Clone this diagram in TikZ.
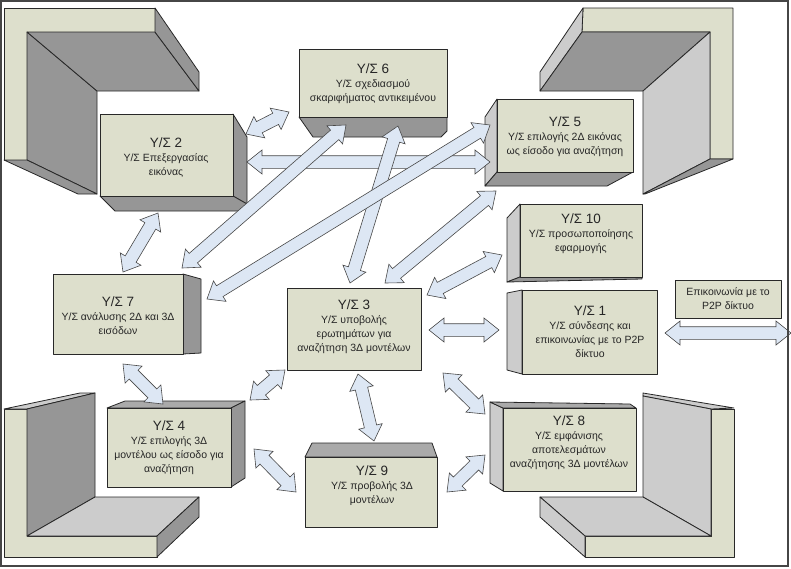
\documentclass[tikz,border=0pt]{standalone}
\usepackage{fontspec}
\setmainfont{Liberation Sans}
\usetikzlibrary{calc,fit}
\definecolor{khaki}{RGB}{221,223,204}
\definecolor{dgray}{RGB}{150,150,150}
\definecolor{lgray}{RGB}{204,204,204}
\definecolor{mgray}{RGB}{170,170,170}
\definecolor{arrowfill}{RGB}{221,231,244}
\definecolor{edgecol}{RGB}{40,40,40}
\definecolor{framecol}{RGB}{70,70,70}
\newcommand\ysTitle{\fontsize{13.5}{15}\selectfont}
\newcommand\ysSub{\fontsize{10.5}{14}\selectfont}
\newcommand\blockarrow[2]{%
  \path (#1) coordinate (BA) (#2) coordinate (BB);
  \path ($(BA)!15pt!(BB)$) coordinate (HA) ($(BB)!15pt!(BA)$) coordinate (HB);
  \filldraw[barrowstyle] (BA) -- ($(HA)!12pt!90:(BB)$) -- ($(HA)!6.3pt!90:(BB)$)
    -- ($(HB)!6.3pt!-90:(BA)$) -- ($(HB)!12pt!-90:(BA)$) -- (BB)
    -- ($(HB)!12pt!90:(BA)$) -- ($(HB)!6.3pt!90:(BA)$)
    -- ($(HA)!6.3pt!-90:(BB)$) -- ($(HA)!12pt!-90:(BB)$) -- cycle;}
\begin{document}
\begin{tikzpicture}[x=1pt,y=-1pt,
  face/.style={draw=edgecol,line width=0.8pt,line join=round},
  front/.style={face,fill=khaki,inner sep=0pt},
  dark/.style={face,fill=dgray},
  light/.style={face,fill=lgray},
  mid/.style={face,fill=mgray},
  txt/.style={align=center,font=\ysSub,inner sep=0pt,text=black!85},
  barrowstyle/.style={draw=edgecol!85,fill=arrowfill,line width=0.6pt,line join=miter}]
\useasboundingbox (0,0) rectangle (791,568);
\fill[white] (0,0) rectangle (791,568);

% ---- corner L shapes ----
% top-left
\draw[front] (4,8) -- (155,8) -- (155,32) -- (27,32) -- (27,160) -- (4,160) -- cycle;
\draw[dark] (27,32) -- (97,91) -- (97,194) -- (27,160) -- cycle;
\draw[dark] (27,32) -- (155,32) -- (199,91) -- (97,91) -- cycle;
\draw[dark] (155,8) -- (199,72) -- (199,91) -- (155,32) -- cycle;
\draw[dark] (4,160) -- (27,160) -- (97,194) -- (78,194) -- cycle;
% top-right
\draw[front] (583,8) -- (733,8) -- (733,159) -- (710,159) -- (710,32) -- (582,32) -- cycle;
\draw[light] (583,8) -- (540,72) -- (540,91) -- (582,32) -- cycle;
\draw[dark] (582,32) -- (710,32) -- (643,91) -- (540,91) -- cycle;
\draw[light] (710,32) -- (710,159) -- (643,194) -- (643,91) -- cycle;
\draw[dark] (710,159) -- (733,159) -- (645,194) -- (643,194) -- cycle;
% bottom-left
\draw[front] (4,409) -- (27,409) -- (27,536) -- (157,536) -- (157,557) -- (4,557) -- cycle;
\draw[light] (4,409) -- (80,393) -- (95,393) -- (27,409) -- cycle;
\draw[dark] (27,409) -- (95,393) -- (95,497) -- (27,536) -- cycle;
\draw[light] (27,536) -- (95,497) -- (199,497) -- (157,536) -- cycle;
\draw[dark] (157,536) -- (199,497) -- (199,517) -- (157,557) -- cycle;
% bottom-right
\draw[front] (711,409) -- (734,409) -- (734,557) -- (585,557) -- (585,536) -- (711,536) -- cycle;
\draw[light] (643,393) -- (734,408) -- (711,409) -- (643,396) -- cycle;
\draw[light] (643,396) -- (711,409) -- (711,536) -- (643,497) -- cycle;
\draw[light] (540,497) -- (643,497) -- (711,536) -- (585,536) -- cycle;
\draw[light] (540,497) -- (585,536) -- (585,557) -- (540,517) -- cycle;

% ---- boxes: side faces ----
\draw[dark] (233,114) -- (247,137) -- (247,204) -- (233,196) -- cycle;
\draw[dark] (100,196) -- (233,196) -- (247,204) -- (241,211) -- (115,211) -- cycle;
\draw[dark] (299,117) -- (447,117) -- (447,131) -- (441,137) -- (313,137) -- cycle;
\draw[light] (497,99) -- (485,117) -- (485,186) -- (497,172) -- cycle;
\draw[dark] (497,172) -- (633,172) -- (607,186) -- (485,186) -- cycle;
\draw[light] (520,204) -- (507,218) -- (507,282) -- (520,277) -- cycle;
\draw[dark] (520,277) -- (642,277) -- (642,279) -- (507,282) -- cycle;
\draw[light] (522,290) -- (507,293) -- (507,370) -- (522,374) -- cycle;
\draw[dark] (183,274) -- (201,279) -- (201,353) -- (183,354) -- cycle;
\draw[mid] (107,408) -- (125,401) -- (245,401) -- (231,408) -- cycle;
\draw[dark] (231,408) -- (245,401) -- (245,478) -- (231,487) -- cycle;
\draw[mid] (305,457) -- (312,443) -- (432,443) -- (437,457) -- cycle;
\draw[light] (503,408) -- (490,402) -- (490,483) -- (503,491) -- cycle;
\draw[mid] (490,402) -- (630,404) -- (636,408) -- (503,408) -- cycle;

% ---- boxes: front faces ----
\node[front,fit={(100,114) (233,196)}] (b2) {};
\node[front,fit={(299,49) (447,117)}] (b6) {};
\node[front,fit={(497,99) (633,172)}] (b5) {};
\node[front,fit={(520,204) (642,277)}] (b10) {};
\node[front,fit={(522,290) (657,374)}] (b1) {};
\node[front,fit={(287,288) (421,370)}] (b3) {};
\node[front,fit={(53,274) (183,354)}] (b7) {};
\node[front,fit={(107,408) (231,487)}] (b4) {};
\node[front,fit={(305,457) (437,527)}] (b9) {};
\node[front,fit={(503,408) (636,491)}] (b8) {};
\node[front,fit={(675,280) (781,318)}] (bx) {};

% ---- texts ----
\node[txt] (t2) at (166,158) {{\ysTitle Υ/Σ 2}\\Υ/Σ Επεξεργασίας\\εικόνας};
\node[txt] (t6) at (373,84) {{\ysTitle Υ/Σ 6}\\Υ/Σ σχεδιασμού\\σκαριφήματος αντικειμένου};
\node[txt] (t5) at (565,137) {{\ysTitle Υ/Σ 5}\\Υ/Σ επιλογής 2Δ εικόνας\\ως είσοδο για αναζήτηση};
\node[txt] (t10) at (581,234) {{\ysTitle Υ/Σ 10}\\Υ/Σ προσωποποίησης\\εφαρμογής};
\node[txt] (t1) at (590,332) {{\ysTitle Υ/Σ 1}\\Υ/Σ σύνδεσης και\\επικοινωνίας με το P2P\\δίκτυο};
\node[txt] (t3) at (354,327) {{\ysTitle Υ/Σ 3}\\Υ/Σ υποβολής\\ερωτημάτων για\\αναζήτηση 3Δ μοντέλων};
\node[txt] (t7) at (118,316) {{\ysTitle Υ/Σ 7}\\Υ/Σ ανάλυσης 2Δ και 3Δ\\εισόδων};
\node[txt] (t4) at (169,448) {{\ysTitle Υ/Σ 4}\\Υ/Σ επιλογής 3Δ\\μοντέλου ως είσοδο για\\αναζήτηση};
\node[txt] (t9) at (372,486) {{\ysTitle Υ/Σ 9}\\Υ/Σ προβολής 3Δ\\μοντέλων};
\node[txt] (t8) at (569,443) {{\ysTitle Υ/Σ 8}\\Υ/Σ εμφάνισης\\αποτελεσμάτων\\αναζήτησης 3Δ μοντέλων};
\node[txt] (tx) at (728,299) {Επικοινωνία με το\\P2P δίκτυο};

% ---- arrow end points ----
\coordinate (a1s) at (246,134); \coordinate (a1e) at (289,112);
\coordinate (a2s) at (247,162); \coordinate (a2e) at (490,162);
\coordinate (a3s) at (182,268); \coordinate (a3e) at (346,125);
\coordinate (a4s) at (350,283); \coordinate (a4e) at (398,126);
\coordinate (a5s) at (207,299); \coordinate (a5e) at (490,125);
\coordinate (a6s) at (385,283); \coordinate (a6e) at (496,191);
\coordinate (a7s) at (427,295); \coordinate (a7e) at (502,255);
\coordinate (a8s) at (429,330); \coordinate (a8e) at (499,330);
\coordinate (a9s) at (665,333); \coordinate (a9e) at (791,333);
\coordinate (a10s) at (123,272); \coordinate (a10e) at (158,213);
\coordinate (a11s) at (123,364); \coordinate (a11e) at (163,404);
\coordinate (a12s) at (250,400); \coordinate (a12e) at (285,370);
\coordinate (a13s) at (254,449); \coordinate (a13e) at (296,492);
\coordinate (a14s) at (358,374); \coordinate (a14e) at (374,441);
\coordinate (a15s) at (443,373); \coordinate (a15e) at (485,414);
\coordinate (a16s) at (447,492); \coordinate (a16e) at (485,455);

\blockarrow{a1s}{a1e}
\blockarrow{a2s}{a2e}
\blockarrow{a3s}{a3e}
\blockarrow{a4s}{a4e}
\blockarrow{a5s}{a5e}
\blockarrow{a6s}{a6e}
\blockarrow{a7s}{a7e}
\blockarrow{a8s}{a8e}
\blockarrow{a9s}{a9e}
\blockarrow{a10s}{a10e}
\blockarrow{a11s}{a11e}
\blockarrow{a12s}{a12e}
\blockarrow{a13s}{a13e}
\blockarrow{a14s}{a14e}
\blockarrow{a15s}{a15e}
\blockarrow{a16s}{a16e}

% ---- frame ----
\draw[framecol,line width=1.5pt] (1,1) rectangle (788,566);
\end{tikzpicture}
\end{document}
